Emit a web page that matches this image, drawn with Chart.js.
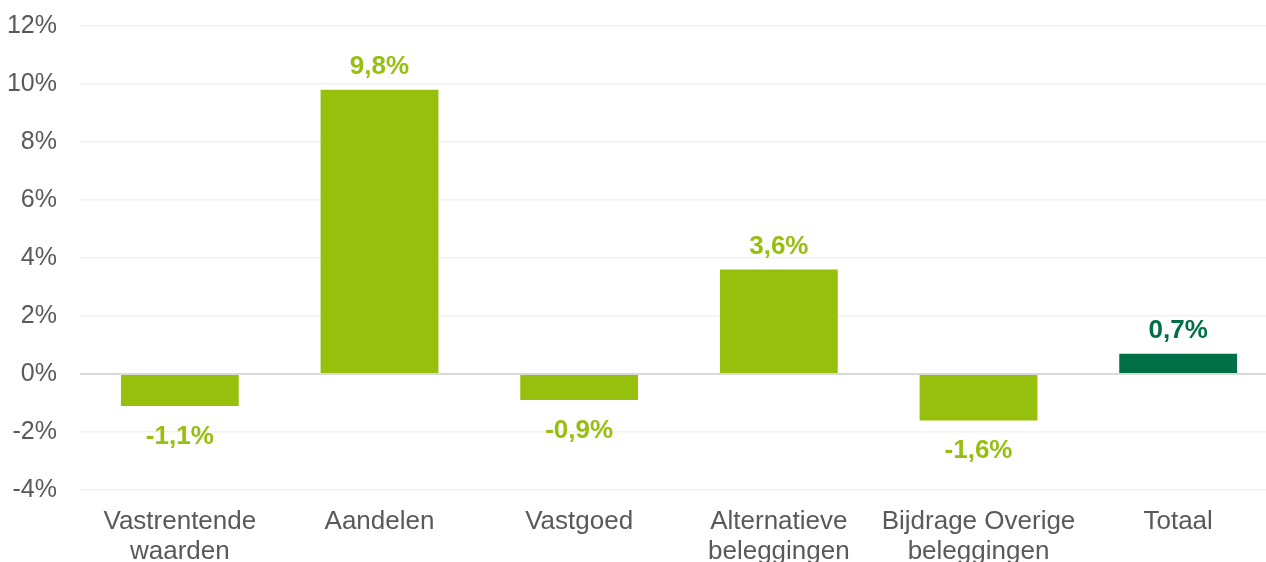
<!DOCTYPE html>
<html>
<head>
<meta charset="utf-8">
<script src="https://cdn.jsdelivr.net/npm/chart.js@4.4.0/dist/chart.umd.min.js"></script>
<style>
    html, body { margin: 0; padding: 0; background: #fff; overflow: hidden; }
    #wrap { position: absolute; left: 0; top: 0; width: 1290px; height: 600px; }
</style>
</head>
<body>
<div id="wrap"><canvas id="returnsChart" width="1290" height="600"></canvas></div>
<script>
// Chart data
const categories = [
    ['Vastrentende', 'waarden'],
    'Aandelen',
    'Vastgoed',
    ['Alternatieve', 'beleggingen'],
    ['Bijdrage Overige', 'beleggingen'],
    'Totaal'
];
const returns = [-1.1, 9.8, -0.9, 3.6, -1.6, 0.7];
const barColors = ['#97bf0d', '#97bf0d', '#97bf0d', '#97bf0d', '#97bf0d', '#006e46'];
const yTicks = [-4, -2, 0, 2, 4, 6, 8, 10, 12];

const fontFamily = '"Liberation Sans", Arial, sans-serif';

// Value labels above / below the bars
const valueLabels = {
    id: 'valueLabels',
    afterDatasetsDraw(chart) {
        const ctx = chart.ctx;
        const meta = chart.getDatasetMeta(0);
        ctx.save();
        ctx.font = 'bold 26px ' + fontFamily;
        ctx.textAlign = 'center';
        ctx.textBaseline = 'alphabetic';
        meta.data.forEach((bar, i) => {
            const v = returns[i];
            const text = v.toFixed(1).replace('.', ',') + '%';
            ctx.fillStyle = barColors[i];
            if (v >= 0) {
                ctx.fillText(text, bar.x, bar.y - 16);
            } else {
                ctx.fillText(text, bar.x, bar.y + 38);
            }
        });
        ctx.restore();
    }
};

new Chart(document.getElementById('returnsChart'), {
    type: 'bar',
    data: {
        labels: categories,
        datasets: [{
            data: returns,
            backgroundColor: barColors,
            barPercentage: 0.59,
            categoryPercentage: 1
        }]
    },
    options: {
        responsive: false,
        animation: false,
        layout: { padding: { top: 26, right: 12, bottom: 0, left: 0 } },
        plugins: {
            legend: { display: false },
            tooltip: { enabled: false }
        },
        scales: {
            x: {
                grid: { display: false, drawTicks: false },
                border: { display: false },
                ticks: {
                    color: '#595959',
                    font: { family: fontFamily, size: 26, lineHeight: 1.15 },
                    padding: 17,
                    maxRotation: 0,
                    autoSkip: false
                },
                afterFit(scale) { scale.height = 110; }
            },
            y: {
                min: -4,
                max: 12,
                afterBuildTicks(scale) { scale.ticks = yTicks.map(v => ({ value: v })); },
                grid: {
                    drawTicks: false,
                    color: c => c.tick && c.tick.value === 0 ? '#d9d9d9' : '#f2f2f2',
                    lineWidth: c => c.tick && c.tick.value === 0 ? 2 : 1.5
                },
                border: { display: false },
                ticks: {
                    color: '#595959',
                    font: { family: fontFamily, size: 25 },
                    padding: 23,
                    callback: v => v + '%'
                },
                afterFit(scale) {
                    scale.width = 80;
                    scale.paddingTop = 0;
                    scale.paddingBottom = 0;
                }
            }
        }
    },
    plugins: [valueLabels]
});
</script>
</body>
</html>
